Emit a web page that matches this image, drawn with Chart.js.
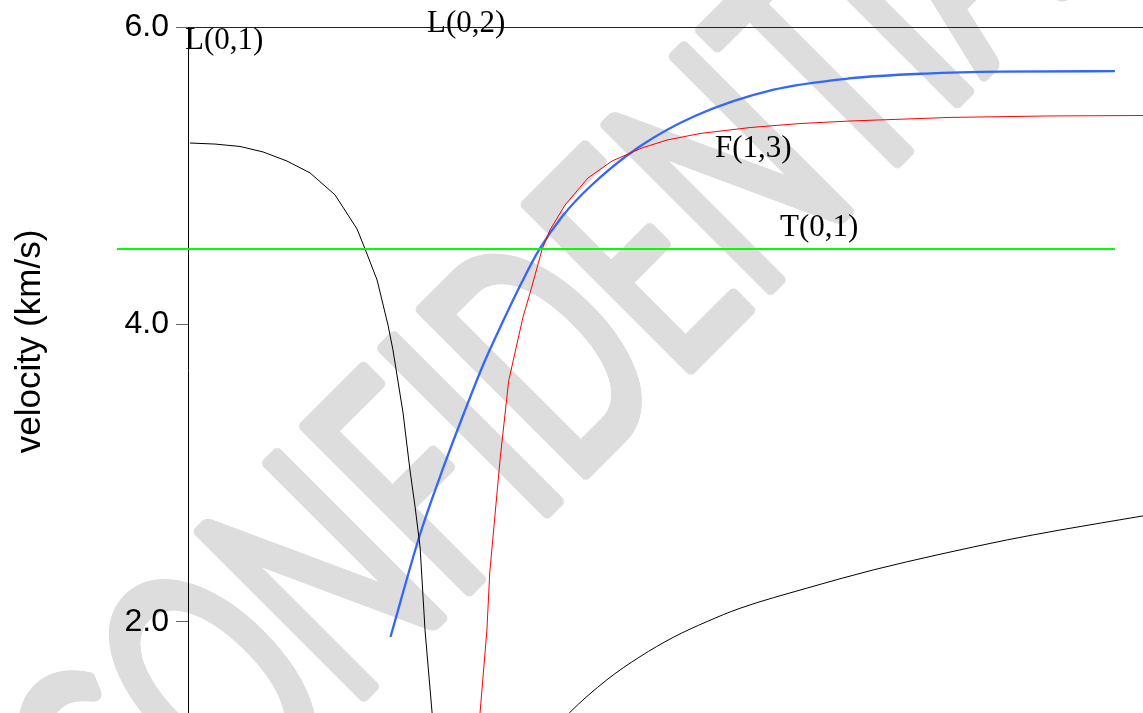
<!DOCTYPE html>
<html>
<head>
<meta charset="utf-8">
<script src="https://cdn.jsdelivr.net/npm/chart.js@4.4.1/dist/chart.umd.min.js"></script>
<style>
html,body{margin:0;padding:0;background:#fff;overflow:hidden}
#wrap{width:1143px;height:713px;position:relative}
</style>
</head>
<body>
<div id="wrap"><canvas id="c" width="1143" height="713"></canvas></div>
<script>
// ---- data (x in arbitrary frequency units, y = velocity km/s) ----
const yTicks = [2.0, 4.0, 6.0];
const yTitle = 'velocity (km/s)';
const watermarkText = 'CONFIDENTIAL';

const l01X = [0.10, 1.41, 2.72, 3.93, 5.18, 6.39, 7.70, 8.85, 9.27, 9.90, 10.47, 10.73, 11.26, 11.62, 11.89, 12.15, 12.41, 12.78, 12.88];
const l01V = [5.220, 5.213, 5.197, 5.160, 5.099, 5.019, 4.871, 4.642, 4.508, 4.299, 3.997, 3.829, 3.405, 3.022, 2.773, 2.504, 1.946, 1.388, 1.207];

const l02X = [18.69, 19.96, 21.92, 23.67, 25.41, 27.16, 28.90, 32.39, 35.88, 39.37, 42.86, 45.65, 50.00];
const l02V = [1.207, 1.388, 1.610, 1.767, 1.897, 2.002, 2.092, 2.227, 2.350, 2.455, 2.551, 2.618, 2.713];

const f13X = [15.17, 15.29, 15.65, 15.80, 16.35, 16.79, 17.54, 17.91, 18.53, 18.95, 19.74, 20.94, 22.20, 23.77, 25.08, 26.81, 29.42, 32.04, 34.66, 39.90, 45.13, 50.00];
const f13V = [1.207, 1.388, 1.946, 2.335, 3.107, 3.622, 4.050, 4.212, 4.501, 4.635, 4.803, 4.985, 5.099, 5.187, 5.240, 5.284, 5.324, 5.351, 5.368, 5.392, 5.402, 5.405];

const blueX = [10.60, 12.17, 13.38, 14.45, 15.45, 16.28, 17.51, 18.38, 19.61, 21.00, 23.61, 26.60, 30.61, 34.61, 38.62, 42.62, 48.53];
const blueV = [1.899, 2.598, 3.042, 3.405, 3.728, 3.963, 4.292, 4.501, 4.729, 4.921, 5.193, 5.405, 5.577, 5.654, 5.687, 5.700, 5.703];

const t01X = [-3.72, 48.53];
const t01V = [4.508, 4.508];

const curveLabels = ['L(0,1)', 'L(0,2)', 'F(1,3)', 'T(0,1)'];
const curveLabelX = [-0.16, 12.51, 27.59, 31.00];
const curveLabelV = [5.855, 5.966, 5.126, 4.595];

const pts = (xs, vs) => xs.map((x, i) => ({x: x, y: vs[i]}));

// ---- plugins ----
const watermarkPlugin = {
  id: 'watermark',
  beforeDraw(chart) {
    const ctx = chart.ctx;
    const F = 329, r = 4;
    ctx.save();
    ctx.font = F + 'px Lato';
    const wCO = ctx.measureText('CO').width;
    const wCONFI = ctx.measureText('CONFI').width;
    const sx = (85 + 229) / (wCONFI - wCO);
    const b0 = -229 - sx * (wCO + 0.13 * F);
    const hb = -755 + r;
    const s = Math.SQRT1_2;
    const x0 = s * (b0 - hb), y0 = -s * (b0 + hb);
    ctx.fillStyle = '#dddddd';
    ctx.textAlign = 'left';
    ctx.textBaseline = 'alphabetic';
    const offs = [[0, 0]];
    for (let k = 0; k < 12; k++) offs.push([r * Math.cos(k * Math.PI / 6), r * Math.sin(k * Math.PI / 6)]);
    offs.forEach(([dx, dy]) => {
      ctx.save();
      ctx.translate(x0 + dx, y0 + dy);
      ctx.rotate(-Math.PI / 4);
      ctx.scale(sx, 1);
      ctx.fillText(watermarkText, 0, 0);
      ctx.restore();
    });
    ctx.restore();
  }
};

const labelPlugin = {
  id: 'curveLabels',
  afterDraw(chart) {
    const ctx = chart.ctx;
    const xs = chart.scales.x, ys = chart.scales.y;
    ctx.save();
    ctx.font = '31px "Liberation Serif"';
    ctx.fillStyle = '#000';
    ctx.textAlign = 'left';
    ctx.textBaseline = 'alphabetic';
    curveLabels.forEach((t, i) => {
      ctx.fillText(t, xs.getPixelForValue(curveLabelX[i]), ys.getPixelForValue(curveLabelV[i]));
    });
    // y axis title
    ctx.translate(39.5, 341.5);
    ctx.rotate(-Math.PI / 2);
    ctx.font = '35px "Liberation Sans"';
    ctx.textAlign = 'center';
    ctx.fillText(yTitle, 0, 0);
    ctx.restore();
  }
};

new Chart(document.getElementById('c'), {
  type: 'line',
  data: {
    datasets: [
      {label: 'T(0,1)', data: pts(t01X, t01V), borderColor: '#00ff00', borderWidth: 2, pointRadius: 0, tension: 0, clip: false},
      {label: 'L(0,1)', data: pts(l01X, l01V), borderColor: '#000000', borderWidth: 1, pointRadius: 0, tension: 0},
      {label: 'L(0,2)', data: pts(l02X, l02V), borderColor: '#000000', borderWidth: 1, pointRadius: 0, cubicInterpolationMode: 'monotone'},
      {label: 'F(1,3)', data: pts(f13X, f13V), borderColor: '#ff0000', borderWidth: 1, pointRadius: 0, tension: 0},
      {label: 'F(1,2)', data: pts(blueX, blueV), borderColor: '#3366ff', borderWidth: 2.3, pointRadius: 0, cubicInterpolationMode: 'monotone'}
    ]
  },
  options: {
    responsive: false,
    animation: false,
    devicePixelRatio: 1,
    layout: {padding: {top: 27, right: 0, bottom: 0, left: 0}},
    plugins: {legend: {display: false}, tooltip: {enabled: false}},
    scales: {
      x: {type: 'linear', min: 0, max: 50, display: false},
      y: {
        type: 'linear', min: 1.388, max: 6.0,
        afterBuildTicks: s => { s.ticks = yTicks.map(v => ({value: v})); },
        afterFit: s => { s.width = 188; s.paddingTop = 0; s.paddingBottom = 0; },
        ticks: {
          callback: v => Number(v).toFixed(1),
          font: {family: 'Liberation Sans', size: 32},
          color: '#000',
          padding: 7
        },
        grid: {
          color: c => (c.tick && c.tick.value === 6) ? '#222' : 'rgba(0,0,0,0)',
          tickColor: '#666',
          tickLength: 12,
          lineWidth: 1
        },
        border: {display: true, color: '#000', width: 1}
      }
    }
  },
  plugins: [watermarkPlugin, labelPlugin]
});
</script>
</body>
</html>
